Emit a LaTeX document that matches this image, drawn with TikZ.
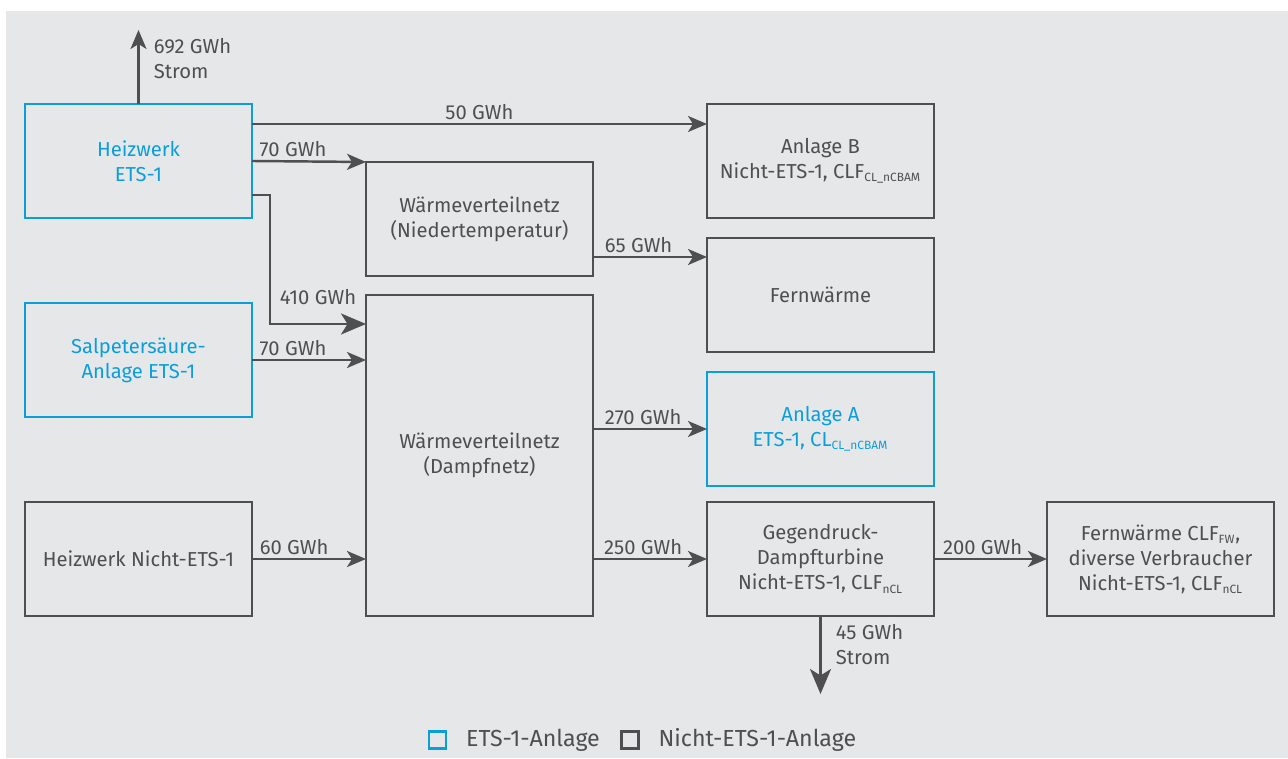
\documentclass[tikz,border=0pt]{standalone}
\usepackage{fontspec}
\setmainfont{Fira Sans}
\usepackage{tikz}
\usetikzlibrary{arrows.meta,positioning}
\definecolor{EtsBlau}{HTML}{0A9FDB}
\definecolor{AnlageGrau}{HTML}{4F4F51}
\definecolor{FlaecheGrau}{HTML}{E6E7E8}
\newcommand{\tief}[1]{\textsubscript{\fontsize{6.8}{7}\selectfont #1}}

\begin{document}
\begin{tikzpicture}[
  box/.style={draw=AnlageGrau,line width=1.6pt,minimum width=4.54cm,minimum height=2.28cm,align=center,text=AnlageGrau,inner sep=2pt,outer sep=0pt,font=\fontsize{11.5}{14.2}\selectfont},
  ets/.style={box,draw=EtsBlau,text=EtsBlau},
  flow/.style={-{Stealth[length=3.8mm,width=3.2mm,inset=1mm]},draw=AnlageGrau,line width=1.4pt},
  bigflow/.style={flow,-{Stealth[length=5mm,width=4.2mm,inset=1.3mm]}},
  lbl/.style={text=AnlageGrau,font=\fontsize{11.5}{14.2}\selectfont,inner sep=2pt},
  qty/.style={lbl,pos=0.4,above},
  legbox/.style={draw,line width=1.4pt,minimum size=0.34cm,inner sep=0pt},
  legtext/.style={lbl,font=\fontsize{13.2}{15}\selectfont}
]
\useasboundingbox (0,0) rectangle (25.76,15.16);
\fill[FlaecheGrau] (0.12,0) rectangle (25.76,14.94);

% linke Spalte
\node[ets] (heizwerk) at (2.77,11.94) {Heizwerk\\ETS-1};
\node[ets,below=1.7cm of heizwerk] (salpeter) {Salpetersäure-\\Anlage ETS-1};
\node[box,below=1.7cm of salpeter] (heiznicht) {Heizwerk Nicht-ETS-1};
% Netze
\node[box,minimum height=6.42cm,anchor=south west] (dampfnetz) at ([xshift=2.28cm]heiznicht.south east) {Wärmeverteilnetz\\(Dampfnetz)};
\node[box,above=0.38cm of dampfnetz] (niedertemp) {Wärmeverteilnetz\\(Niedertemperatur)};
% rechte Spalten
\node[box,anchor=north west] (anlageB) at ([xshift=2.28cm]niedertemp.east |- heizwerk.north) {Anlage B\\Nicht-ETS-1, CLF\tief{CL\_nCBAM}};
\node[box,below=0.4cm of anlageB] (fernwaerme) {Fernwärme};
\node[ets,below=0.4cm of fernwaerme] (anlageA) {Anlage A\\ETS-1, CL\tief{CL\_nCBAM}};
\node[box,anchor=south west] (gegendruck) at ([xshift=2.28cm]dampfnetz.south east) {Gegendruck-\\Dampfturbine\\Nicht-ETS-1, CLF\tief{nCL}};
\node[box,right=2.26cm of gegendruck] (verbraucher) {Fernwärme CLF\tief{FW},\\diverse Verbraucher\\Nicht-ETS-1, CLF\tief{nCL}};

% Stromabgaben
\coordinate (strom) at ([yshift=1.48cm]heizwerk.north);
\draw[flow] (heizwerk.north) -- (strom);
\node[lbl,align=left,anchor=north west] (stromlbl) at ([xshift=0.23cm,yshift=-0.1cm]strom) {692 GWh\\Strom};
\coordinate (strom2) at ([yshift=-1.56cm]gegendruck.south);
\draw[bigflow] (gegendruck.south) -- (strom2);
\node[lbl,align=left,anchor=north west] (strom2lbl) at ([xshift=0.23cm,yshift=-0.1cm]gegendruck.south) {45 GWh\\Strom};

% Waermefluesse
\draw[flow] ([yshift=-0.4cm]heizwerk.north east) -- node[lbl,above]{50 GWh} ([yshift=-0.4cm]anlageB.north west);
\draw[flow] (heizwerk.east) -- node[qty,pos=0.36]{70 GWh} (niedertemp.north west);
\draw[bigflow] ([yshift=-0.68cm]heizwerk.east) -- ++(0.36,0) |- node[qty,pos=0.75,above=8pt]{410 GWh} ([yshift=-0.58cm]dampfnetz.north west);
\draw[flow] (salpeter.east) -- node[qty,pos=0.36]{70 GWh} (salpeter.east -| dampfnetz.west);
\draw[flow] (heiznicht.east) -- node[qty,pos=0.37]{60 GWh} (heiznicht.east -| dampfnetz.west);
\draw[flow] ([yshift=0.38cm]niedertemp.south east) -- node[qty]{65 GWh} ([yshift=0.38cm]niedertemp.south east -| fernwaerme.west);
\draw[flow] (anlageA.west -| dampfnetz.east) -- node[qty,pos=0.44]{270 GWh} (anlageA.west);
\draw[flow] (gegendruck.west -| dampfnetz.east) -- node[qty,pos=0.44]{250 GWh} (gegendruck.west);
\draw[flow] (gegendruck.east) -- node[qty,pos=0.43]{200 GWh} (verbraucher.west);

% Legende
\node[legbox,draw=EtsBlau] (legets) at (8.75,0.36) {};
\node[legtext,right=0.3cm of legets] (legetstext) {ETS-1-Anlage};
\node[legbox,draw=AnlageGrau,right=0.33cm of legetstext] (legnicht) {};
\node[legtext,right=0.3cm of legnicht] (legnichttext) {Nicht-ETS-1-Anlage};
\end{tikzpicture}
\end{document}
